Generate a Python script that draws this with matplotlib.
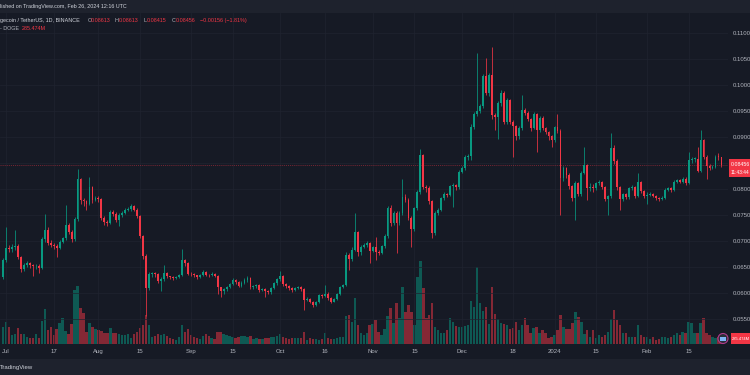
import matplotlib
matplotlib.use("Agg")
import matplotlib.pyplot as plt
import matplotlib.dates as mdates
from matplotlib.patches import Rectangle, Ellipse
import numpy as np
import pandas as pd

# DOGE/USDT daily candles (Binance).
# One value per day from 2023-06-30 to 2024-02-26; open = previous close.
start_date = "2023-06-30"
first_open = 0.0631

closes = [
    0.0663,
    # Jul
    0.0686, 0.0684, 0.0688, 0.0690, 0.0670, 0.0647, 0.0654, 0.0657, 0.0653, 0.0651,
    0.0652, 0.0649, 0.0703, 0.0722, 0.0697, 0.0692, 0.0690, 0.0686, 0.0699, 0.0705,
    0.0731, 0.0718, 0.0703, 0.0742, 0.0819, 0.0779, 0.0776, 0.0772, 0.0803, 0.0779, 0.0782,
    # Aug
    0.0780, 0.0744, 0.0737, 0.0735, 0.0756, 0.0752, 0.0740, 0.0750, 0.0754, 0.0760,
    0.0761, 0.0767, 0.0760, 0.0748, 0.0710, 0.0671, 0.0610, 0.0636, 0.0638, 0.0636,
    0.0624, 0.0626, 0.0638, 0.0632, 0.0630, 0.0628, 0.0630, 0.0634, 0.0663, 0.0657, 0.0637,
    # Sep
    0.0636, 0.0634, 0.0631, 0.0635, 0.0641, 0.0635, 0.0634, 0.0637, 0.0633, 0.0611,
    0.0603, 0.0607, 0.0612, 0.0617, 0.0625, 0.0621, 0.0614, 0.0620, 0.0625, 0.0628,
    0.0611, 0.0613, 0.0615, 0.0605, 0.0608, 0.0604, 0.0601, 0.0610, 0.0619, 0.0626,
    # Oct
    0.0632, 0.0618, 0.0613, 0.0610, 0.0606, 0.0610, 0.0611, 0.0607, 0.0587, 0.0589,
    0.0583, 0.0577, 0.0582, 0.0596, 0.0594, 0.0599, 0.0590, 0.0583, 0.0588, 0.0598,
    0.0611, 0.0615, 0.0673, 0.0665, 0.0683, 0.0718, 0.0678, 0.0689, 0.0692, 0.0697, 0.0681,
    # Nov
    0.0688, 0.0678, 0.0677, 0.0690, 0.0710, 0.0763, 0.0734, 0.0753, 0.0734, 0.0753,
    0.0785, 0.0779, 0.0744, 0.0724, 0.0763, 0.0795, 0.0865, 0.0804, 0.0801, 0.0776,
    0.0716, 0.0753, 0.0760, 0.0782, 0.0790, 0.0788, 0.0805, 0.0808, 0.0803, 0.0833,
    # Dec
    0.0840, 0.0862, 0.0864, 0.0920, 0.0944, 0.0950, 0.0960, 0.1017, 0.0985, 0.1019,
    0.0942, 0.0939, 0.0965, 0.0984, 0.0929, 0.0971, 0.0929, 0.0921, 0.0901, 0.0917,
    0.0951, 0.0947, 0.0934, 0.0917, 0.0944, 0.0914, 0.0936, 0.0917, 0.0910, 0.0901, 0.0894,
    # Jan 2024
    0.0919, 0.0912, 0.0821, 0.0840, 0.0827, 0.0805, 0.0782, 0.0811, 0.0790, 0.0830,
    0.0846, 0.0801, 0.0803, 0.0801, 0.0811, 0.0814, 0.0803, 0.0780, 0.0786, 0.0878,
    0.0853, 0.0803, 0.0780, 0.0790, 0.0784, 0.0801, 0.0804, 0.0787, 0.0814, 0.0797, 0.0787,
    # Feb
    0.0789, 0.0791, 0.0787, 0.0782, 0.0780, 0.0783, 0.0799, 0.0801, 0.0798, 0.0814,
    0.0817, 0.0814, 0.0820, 0.0811, 0.0855, 0.0858, 0.0858, 0.0835, 0.0894, 0.0862,
    0.0844, 0.0840, 0.0843, 0.0862, 0.08613, 0.08456,
]

highs = [
    0.0668,
    0.0726, 0.0692, 0.0695, 0.0721, 0.0694, 0.0672, 0.0658, 0.0662, 0.0660, 0.0656,
    0.0656, 0.0655, 0.0708, 0.0752, 0.0726, 0.0701, 0.0697, 0.0694, 0.0702, 0.0708,
    0.0769, 0.0735, 0.0722, 0.0746, 0.0838, 0.0822, 0.0783, 0.0779, 0.0824, 0.0806, 0.0787,
    0.0786, 0.0783, 0.0748, 0.0741, 0.0760, 0.0760, 0.0756, 0.0753, 0.0757, 0.0763,
    0.0765, 0.0772, 0.0769, 0.0763, 0.0750, 0.0712, 0.0675, 0.0641, 0.0641, 0.0640,
    0.0638, 0.0630, 0.0653, 0.0640, 0.0633, 0.0632, 0.0632, 0.0636, 0.0684, 0.0666, 0.0659,
    0.0640, 0.0638, 0.0635, 0.0637, 0.0644, 0.0642, 0.0637, 0.0641, 0.0638, 0.0634,
    0.0612, 0.0609, 0.0614, 0.0620, 0.0628, 0.0627, 0.0623, 0.0623, 0.0628, 0.0633,
    0.0630, 0.0616, 0.0618, 0.0617, 0.0610, 0.0610, 0.0606, 0.0612, 0.0621, 0.0628,
    0.0642, 0.0634, 0.0620, 0.0615, 0.0612, 0.0612, 0.0614, 0.0614, 0.0609, 0.0592,
    0.0591, 0.0585, 0.0584, 0.0598, 0.0598, 0.0615, 0.0601, 0.0592, 0.0590, 0.0600,
    0.0613, 0.0618, 0.0678, 0.0676, 0.0688, 0.0753, 0.0720, 0.0692, 0.0696, 0.0700, 0.0699,
    0.0691, 0.0707, 0.0682, 0.0692, 0.0714, 0.0767, 0.0770, 0.0758, 0.0757, 0.0757,
    0.0819, 0.0790, 0.0782, 0.0748, 0.0766, 0.0799, 0.0876, 0.0867, 0.0808, 0.0805,
    0.0779, 0.0757, 0.0764, 0.0785, 0.0794, 0.0793, 0.0808, 0.0812, 0.0810, 0.0836,
    0.0845, 0.0866, 0.0868, 0.0925, 0.0948, 0.1062, 0.0964, 0.1022, 0.1051, 0.1024,
    0.1074, 0.0946, 0.0970, 0.0990, 0.0988, 0.0975, 0.0974, 0.0932, 0.0924, 0.0921,
    0.0981, 0.0955, 0.0950, 0.0937, 0.0948, 0.0947, 0.0940, 0.0940, 0.0920, 0.0912, 0.0903,
    0.0922, 0.0944, 0.0916, 0.0845, 0.0843, 0.0830, 0.0808, 0.0815, 0.0814, 0.0834,
    0.0881, 0.0849, 0.0812, 0.0810, 0.0814, 0.0817, 0.0816, 0.0806, 0.0789, 0.0907,
    0.0885, 0.0857, 0.0806, 0.0793, 0.0793, 0.0804, 0.0808, 0.0806, 0.0830, 0.0816, 0.0799,
    0.0794, 0.0794, 0.0793, 0.0789, 0.0785, 0.0786, 0.0802, 0.0804, 0.0804, 0.0817,
    0.0820, 0.0819, 0.0823, 0.0823, 0.0872, 0.0862, 0.0862, 0.0881, 0.0913, 0.0897,
    0.0865, 0.0848, 0.0846, 0.0866, 0.0869, 0.08613,
]

lows = [
    0.0626,
    0.0660, 0.0678, 0.0679, 0.0682, 0.0665, 0.0641, 0.0643, 0.0650, 0.0648, 0.0633,
    0.0646, 0.0638, 0.0647, 0.0698, 0.0693, 0.0688, 0.0684, 0.0670, 0.0684, 0.0696,
    0.0702, 0.0714, 0.0698, 0.0700, 0.0738, 0.0772, 0.0768, 0.0760, 0.0769, 0.0774, 0.0776,
    0.0775, 0.0740, 0.0731, 0.0728, 0.0733, 0.0748, 0.0736, 0.0729, 0.0747, 0.0751,
    0.0757, 0.0758, 0.0757, 0.0745, 0.0706, 0.0665, 0.0555, 0.0605, 0.0630, 0.0631,
    0.0620, 0.0603, 0.0624, 0.0629, 0.0627, 0.0625, 0.0626, 0.0628, 0.0632, 0.0652, 0.0634,
    0.0632, 0.0630, 0.0627, 0.0629, 0.0633, 0.0632, 0.0631, 0.0632, 0.0630, 0.0598,
    0.0593, 0.0598, 0.0604, 0.0610, 0.0615, 0.0618, 0.0611, 0.0612, 0.0618, 0.0622,
    0.0607, 0.0608, 0.0610, 0.0602, 0.0603, 0.0593, 0.0598, 0.0599, 0.0608, 0.0616,
    0.0624, 0.0614, 0.0610, 0.0606, 0.0601, 0.0603, 0.0607, 0.0604, 0.0567, 0.0585,
    0.0580, 0.0574, 0.0575, 0.0580, 0.0591, 0.0592, 0.0587, 0.0580, 0.0582, 0.0586,
    0.0596, 0.0609, 0.0613, 0.0644, 0.0662, 0.0680, 0.0672, 0.0674, 0.0686, 0.0689, 0.0657,
    0.0678, 0.0664, 0.0673, 0.0675, 0.0687, 0.0706, 0.0728, 0.0730, 0.0676, 0.0730,
    0.0750, 0.0775, 0.0740, 0.0689, 0.0720, 0.0760, 0.0790, 0.0800, 0.0795, 0.0772,
    0.0705, 0.0712, 0.0750, 0.0757, 0.0778, 0.0784, 0.0786, 0.0766, 0.0799, 0.0800,
    0.0830, 0.0836, 0.0856, 0.0855, 0.0915, 0.0940, 0.0946, 0.0956, 0.0980, 0.0978,
    0.0935, 0.0914, 0.0897, 0.0960, 0.0925, 0.0925, 0.0925, 0.0862, 0.0895, 0.0896,
    0.0913, 0.0943, 0.0930, 0.0912, 0.0915, 0.0872, 0.0910, 0.0913, 0.0905, 0.0895, 0.0881,
    0.0890, 0.0908, 0.0750, 0.0816, 0.0822, 0.0800, 0.0777, 0.0740, 0.0786, 0.0787,
    0.0828, 0.0779, 0.0797, 0.0795, 0.0798, 0.0808, 0.0800, 0.0776, 0.0750, 0.0782,
    0.0848, 0.0798, 0.0760, 0.0776, 0.0780, 0.0781, 0.0798, 0.0783, 0.0785, 0.0793, 0.0783,
    0.0772, 0.0786, 0.0784, 0.0779, 0.0777, 0.0778, 0.0781, 0.0796, 0.0795, 0.0796,
    0.0812, 0.0811, 0.0812, 0.0808, 0.0809, 0.0850, 0.0852, 0.0832, 0.0832, 0.0858,
    0.0820, 0.0836, 0.0838, 0.0840, 0.0855, 0.08415,
]

# volume, millions of DOGE
volumes_m = [
    595,
    770, 595, 315, 350, 560, 350, 350, 245, 210, 210, 350, 210, 805, 1225, 490, 595,
    315, 525, 735, 910, 455, 350, 700, 1890, 2030, 1260, 1085, 420, 735, 595,
    525, 490, 455, 385, 385, 560, 385, 385, 350, 315, 315, 350, 210, 350, 420, 560,
    665, 1015, 665,
    245, 280, 350, 315, 350, 280, 210, 175, 140, 245, 665, 420, 525, 315, 245, 210,
    175, 280, 350, 280, 210, 175, 420, 420, 350, 315, 280, 245, 210, 245, 280, 280,
    245, 280, 175, 210, 175, 175, 210, 210, 245, 245, 280, 350, 245, 210, 175, 210,
    210, 210,
    210, 420, 140, 210, 175, 175, 140, 175, 385, 210, 175, 175, 210, 245, 245, 980,
    1015, 770, 1610, 665, 385, 315, 385, 665, 700, 840, 420, 315, 525, 980, 1260, 735,
    1435, 910, 1995, 1120, 1365, 1120, 665, 2345, 2905, 1960, 910, 1015, 1435, 595,
    490, 385, 385, 490,
    910, 770, 630, 595, 595, 630, 665, 1505, 1295, 2695, 1435, 1155, 1295, 700, 1995,
    1050, 875, 735, 700, 665, 525, 560, 770, 490, 665, 910, 665, 385, 560, 595, 385,
    490, 385, 210, 245, 315, 490, 1015, 595, 525, 525, 735, 1120, 945, 770, 350, 490,
    245, 490, 210, 315,
    245, 315, 420, 875, 1190, 840, 665, 385, 385, 245, 245, 245, 665, 315, 245, 245,
    175, 245, 140, 175, 245, 245, 210, 245, 315, 385, 315, 420, 385, 770, 735, 385,
    385, 735, 910, 385, 315, 245, 210, 245, 285.474,
]

price_ticks = [0.055, 0.060, 0.065, 0.070, 0.075, 0.080, 0.085, 0.090, 0.095, 0.100, 0.105, 0.110]
date_ticks = ["2023-07-01", "2023-07-17", "2023-08-01", "2023-08-15", "2023-09-01", "2023-09-15",
              "2023-10-01", "2023-10-16", "2023-11-01", "2023-11-15", "2023-12-01", "2023-12-18",
              "2024-01-01", "2024-01-15", "2024-02-01", "2024-02-15"]
date_labels = ["Jul", "17", "Aug", "15", "Sep", "15", "Oct", "16", "Nov", "15", "Dec", "18",
               "2024", "15", "Feb", "15"]

# TradingView dark theme
W, H = 750, 375
BG = "#161A25"
STRIP = "#1E222D"
GRID = "#1F2330"
UP = "#089981"
DOWN = "#F23645"
TXT = "#B2B5BE"
FS = 4.3
HS = 3.9  # header text

plt.rcParams["font.family"] = ["Liberation Sans", "DejaVu Sans"]

dates = pd.date_range(start_date, periods=len(closes), freq="D")
x = mdates.date2num(dates)
c = np.array(closes)
hi = np.array(highs)
lo = np.array(lows)
o = np.concatenate([[first_open], c[:-1]])
cols = np.where(c >= o, UP, DOWN)

fig = plt.figure(figsize=(W / 100, H / 100), dpi=100, facecolor=BG)
# pane: x 0..728 px, y 13..344 px
ax = fig.add_axes([0, 31 / H, 728 / W, 331 / H])
axv = ax.twinx()
ax.set_zorder(axv.get_zorder() + 1)
ax.patch.set_visible(False)
axv.axis("off")

# volume underneath
axv.bar(x, volumes_m, width=0.8, color=cols, alpha=0.5, linewidth=0)
axv.set_ylim(0, 331 * 35)

# candles
ax.vlines(x, lo, hi, colors=cols, linewidth=0.55, zorder=2)
ax.bar(x, np.maximum(np.abs(c - o), 0.00014), bottom=np.minimum(o, c), width=0.62,
       color=cols, linewidth=0, zorder=3)
ax.axhline(c[-1], color=DOWN, lw=0.5, ls=(0, (1.5, 1.5)), alpha=0.6, zorder=1)

jul1 = mdates.date2num(pd.Timestamp("2023-07-01"))
ax.set_xlim(jul1 - 6 / 2.981, jul1 + 722 / 2.981)
ax.set_ylim(0.050192, 0.113846)

ax.set_yticks(price_ticks)
# the 0.0850 label sits under the last-price marker
ax.set_yticklabels(["" if abs(p - 0.085) < 1e-9 else f"{p:.4f}" for p in price_ticks])
ax.yaxis.tick_right()
ax.set_xticks(mdates.date2num(pd.to_datetime(date_ticks)))
ax.set_xticklabels(date_labels)
ax.tick_params(axis="both", length=0, labelsize=FS, colors=TXT)
ax.tick_params(axis="y", pad=3.6)
ax.tick_params(axis="x", pad=3.6)
ax.grid(True, color=GRID, lw=0.5)
ax.set_axisbelow(True)
for s in ax.spines.values():
    s.set_visible(False)


def ptext(xp, yp, s, color, size=HS, z=3, **kw):
    fig.text(xp / W, 1 - yp / H, s, color=color, fontsize=size, va="center", ha="left",
             zorder=z, **kw)


def prect(xp, yp, wp, hp, color, z=1):
    fig.add_artist(Rectangle((xp / W, 1 - (yp + hp) / H), wp / W, hp / H,
                             transform=fig.transFigure, facecolor=color, edgecolor="none", zorder=z))


# top and bottom strips
prect(0, 0, W, 13, STRIP)
prect(0, 359, W, 16, STRIP)
ptext(0, 6.5, "lished on TradingView.com, Feb 26, 2024 12:16 UTC", "#D1D4DC")
ptext(0, 367, "TradingView", "#D1D4DC", size=4.3)

# legend lines
ptext(0, 20.5, "gecoin / TetherUS, 1D, BINANCE", "#D1D4DC")
for xp, letter, val in [(87.5, "O", "0.08613"), (115, "H", "0.08613"),
                        (143, "L", "0.08415"), (172, "C", "0.08456")]:
    ptext(xp, 20.5, letter, TXT)
    ptext(xp + 3.4, 20.5, val, DOWN)
ptext(200, 20.5, "\u22120.00156 (\u22121.81%)", DOWN)
ptext(0, 29, "- DOGE", TXT)
ptext(22, 29, "285.474M", DOWN)

# last price and volume markers on the scale
prect(729, 159, 21, 18, DOWN, z=5)
ptext(730.5, 164.5, "0.08456", "white", size=3.8, z=7)
ptext(730.5, 172, "11:43:44", "white", size=3.5, z=7)
prect(731, 333, 19, 11, DOWN, z=5)
ptext(732, 338.5, "285.474M", "white", size=3.0, z=7)
fig.add_artist(Ellipse((723 / W, 1 - 338.5 / H), 10 / W, 10 / H, transform=fig.transFigure,
                       facecolor="#2A2E39", edgecolor="#B03A8C", lw=0.8, zorder=5))
prect(720, 336.5, 6, 4, "#7FB3F5", z=6)

fig.savefig("out.png", dpi=100, facecolor=BG)
